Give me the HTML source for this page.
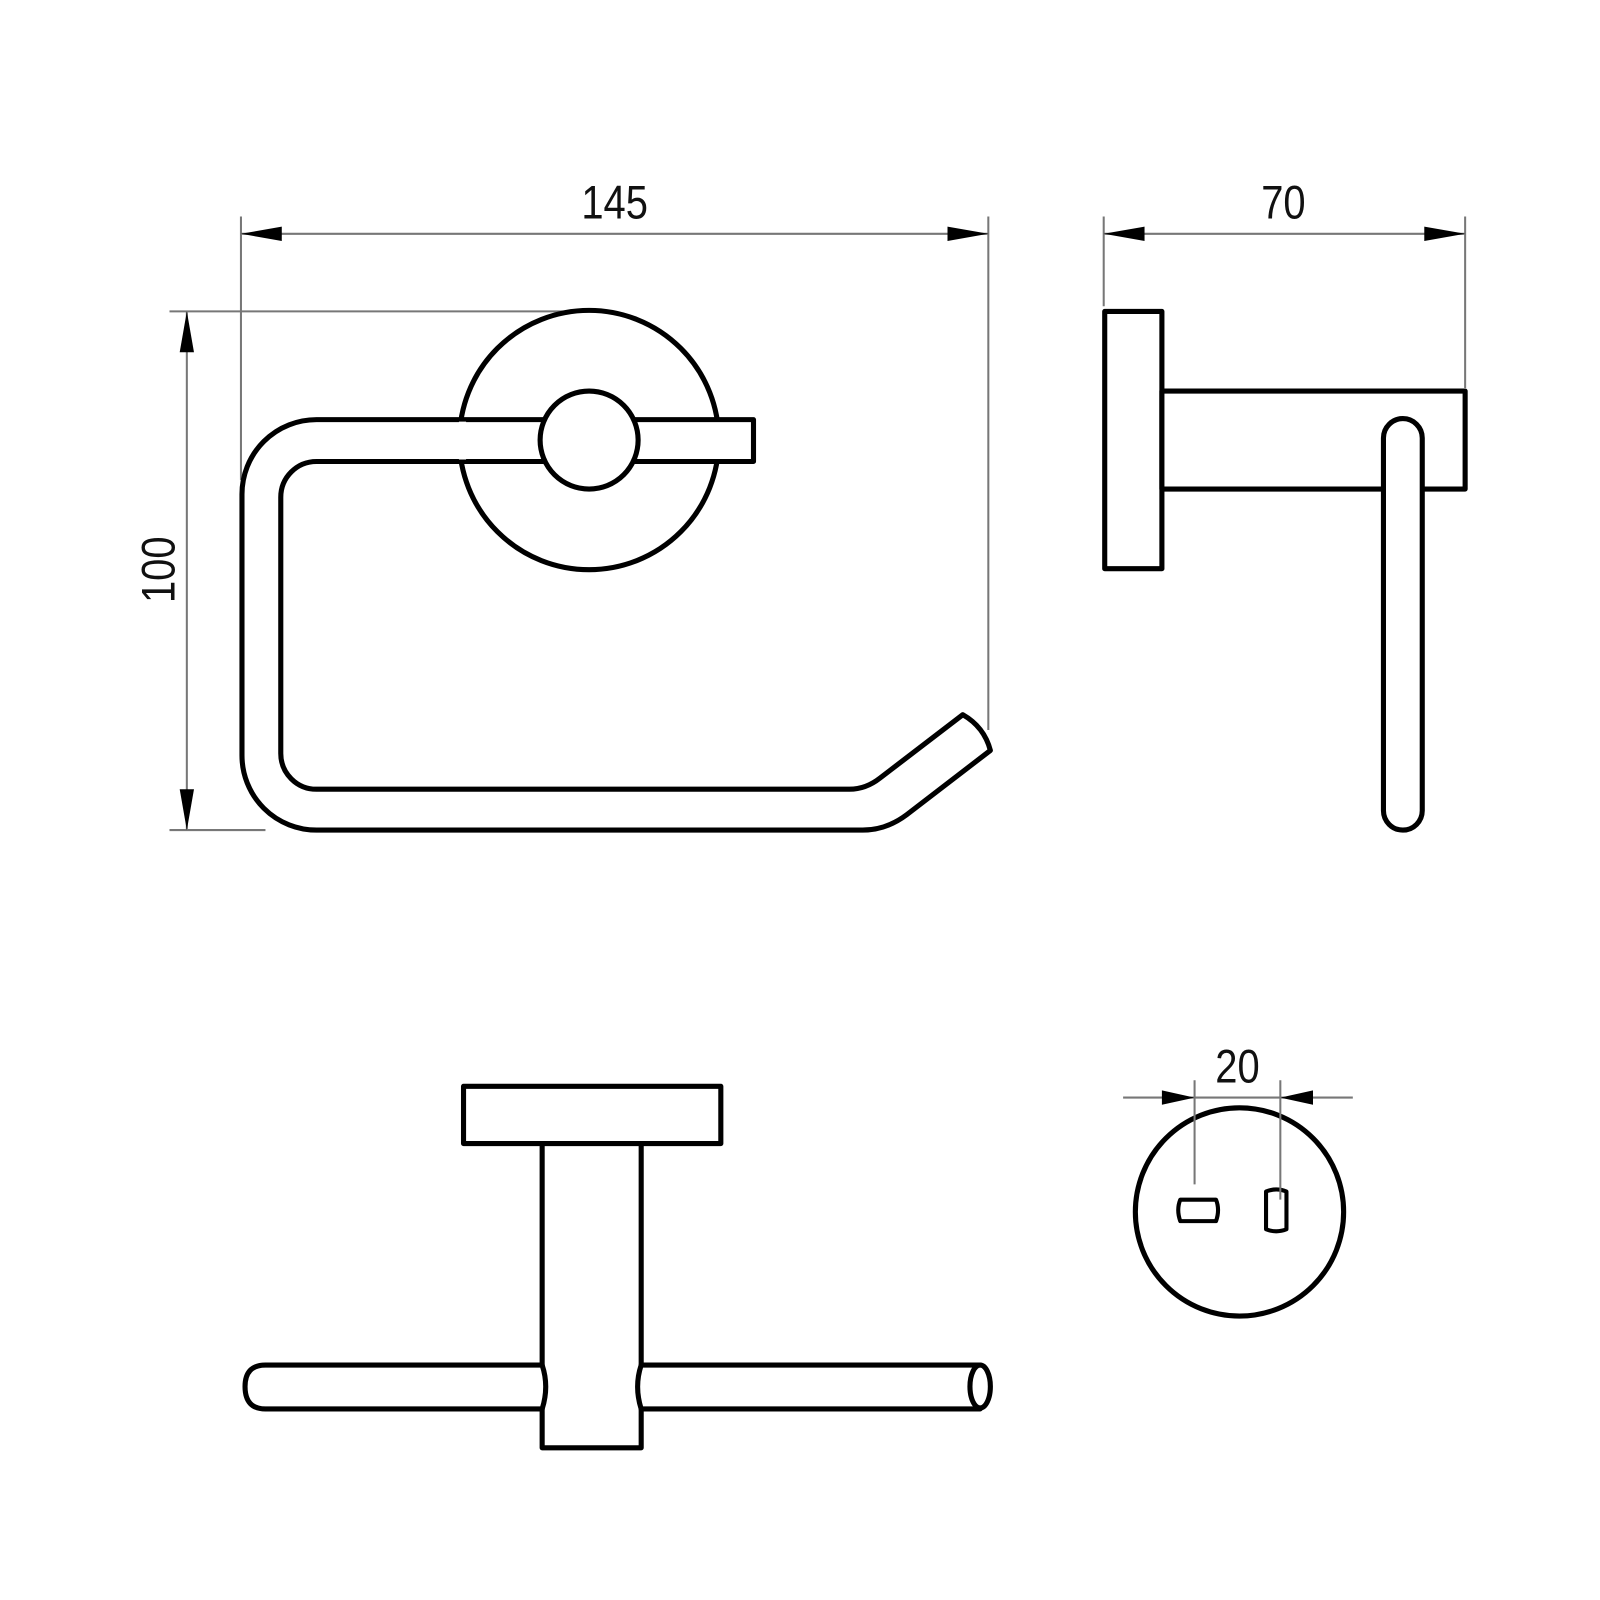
<!DOCTYPE html>
<html><head><meta charset="utf-8"><style>
html,body{margin:0;padding:0;background:#fff;}
svg{display:block;}
text{font-family:"Liberation Sans",sans-serif;fill:#111;}
</style></head><body>
<svg width="1600" height="1600" viewBox="0 0 1600 1600" xmlns="http://www.w3.org/2000/svg">
<g transform="scale(1.021)">
<g stroke="#777" stroke-width="2" fill="none">
  <line x1="236" y1="212" x2="236" y2="470"/>
  <line x1="968" y1="212" x2="968" y2="715"/>
  <line x1="236" y1="229" x2="968" y2="229"/>
  <line x1="166" y1="305" x2="560" y2="305"/>
  <line x1="166" y1="813" x2="260" y2="813"/>
  <line x1="183" y1="305" x2="183" y2="813"/>
  <line x1="1081" y1="212" x2="1081" y2="300"/>
  <line x1="1435" y1="212" x2="1435" y2="380"/>
  <line x1="1081" y1="229" x2="1435" y2="229"/>
  <line x1="1100" y1="1075" x2="1325" y2="1075"/>
</g>
<g fill="#000">
  <polygon points="236,229 276,222 276,236"/>
  <polygon points="968,229 928,222 928,236"/>
  <polygon points="183,305 176,345 190,345"/>
  <polygon points="183,813 176,773 190,773"/>
  <polygon points="1081,229 1121,222 1121,236"/>
  <polygon points="1435,229 1395,222 1395,236"/>
  <polygon points="1170,1075 1138,1068 1138,1082"/>
  <polygon points="1254,1075 1286,1068 1286,1082"/>
</g>
<g font-size="46">
  <text transform="translate(602,214) scale(0.85,1)" text-anchor="middle">145</text>
  <text transform="translate(1257,214) scale(0.85,1)" text-anchor="middle">70</text>
  <text transform="translate(1212,1060) scale(0.85,1)" text-anchor="middle">20</text>
  <text transform="translate(171,558) rotate(-90) scale(0.85,1)" text-anchor="middle">100</text>
</g>
<g stroke="#000" stroke-width="5" fill="none" stroke-linejoin="round">
  <circle cx="577" cy="431" r="127" fill="#fff"/>
  <path d="M453,411 L310,411 A73,73 0 0 0 237,484 L237,740 A73,73 0 0 0 310,813 L845,813 Q868,813 888,798 L970,735 Q964,712 943,700 L862,762 Q848,773 832,773 L310,773 A35,35 0 0 1 275,738 L275,487 A35,35 0 0 1 310,452 L453,452" fill="#fff"/>
  <rect x="453" y="411" width="285" height="41" fill="#fff"/>
  <line x1="453" y1="413" x2="453" y2="450" stroke="#fff" stroke-width="7"/>
  <circle cx="577" cy="431" r="48" fill="#fff"/>
  <rect x="1082" y="305" width="56" height="252" fill="#fff"/>
  <rect x="1138" y="383" width="297" height="96" fill="#fff"/>
  <rect x="1355" y="410" width="38" height="403" rx="19" fill="#fff"/>
  <rect x="454" y="1064" width="252" height="56" fill="#fff"/>
  <rect x="531" y="1120" width="97" height="298" fill="#fff"/>
  <path d="M531,1337 L260,1337 Q240,1337 240,1358 Q240,1380 260,1380 L531,1380 Q538,1358 531,1337 Z" fill="#fff"/>
  <path d="M628,1337 L960,1337 L960,1380 L628,1380 Q621,1358 628,1337 Z" fill="#fff"/>
  <ellipse cx="960" cy="1358" rx="10" ry="21" fill="#fff"/>
  <circle cx="1214" cy="1187" r="102" fill="#fff"/>
  <path d="M1156,1175 L1191,1175 Q1195,1185 1191,1196 L1156,1196 Q1152,1185 1156,1175 Z" stroke-width="4"/>
  <path d="M1240,1167 Q1250,1163 1260,1167 L1260,1204 Q1250,1208 1240,1204 Z" stroke-width="4"/>
</g>
<g stroke="#777" stroke-width="2">
  <line x1="1170" y1="1058" x2="1170" y2="1160"/>
  <line x1="1254" y1="1058" x2="1254" y2="1175"/>
</g>
</g>
</svg>
</body></html>
